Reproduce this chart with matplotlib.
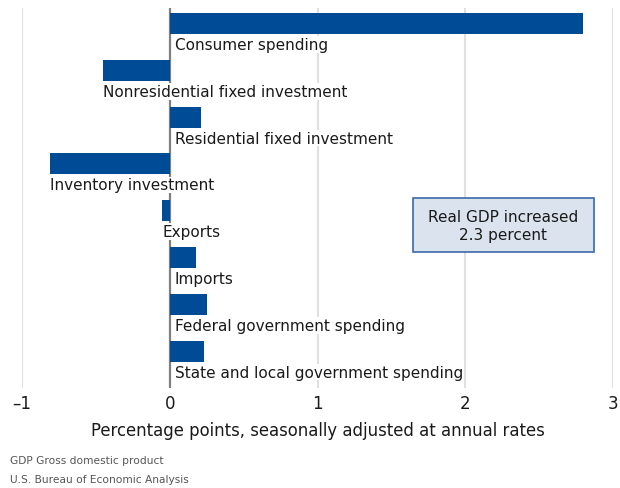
import numpy as np
import matplotlib.pyplot as plt
from matplotlib.patches import Rectangle

plt.rcParams['font.family'] = ['DejaVu Sans']

# contributions to percent change in real GDP, percentage points
categories = ['Consumer spending', 'Nonresidential fixed investment',
              'Residential fixed investment', 'Inventory investment',
              'Exports', 'Imports', 'Federal government spending',
              'State and local government spending']
values = [2.80, -0.45, 0.21, -0.81, -0.05, 0.18, 0.25, 0.23]
xticks = [-1, 0, 1, 2, 3]
gdp_change = 2.3

bar_color = '#004b96'
y = np.arange(len(categories))

fig = plt.figure(figsize=(6.2, 4.89), dpi=100)
ax = fig.add_axes([22/620, 1-389/489, (613-22)/620, 380/489])

for xv in xticks:
    if xv == 0:
        continue
    ax.axvline(xv, color='#e0e0e0', lw=1.5, zorder=0)
ax.axvline(0, color='#808080', lw=1.6, zorder=1)

ax.barh(y, values, height=0.45, color=bar_color, zorder=3)

for yi, name, v in zip(y, categories, values):
    off = 3.5 if v >= 0 else 0
    ax.annotate(name, xy=(min(v, 0), yi + 0.45), xytext=(off, 0),
                textcoords='offset points', ha='left', va='center',
                fontsize=11, color='#1a1a1a', zorder=4,
                bbox=dict(boxstyle='square,pad=0.05', fc='white', ec='none'))

# summary box
ax.add_patch(Rectangle((1.645, 3.737), 1.225, 1.155, fc='#dbe4ee',
                       ec='#3a6aa8', lw=1.2, zorder=5))
ax.text(2.258, 4.31, f'Real GDP increased\n{gdp_change} percent', ha='center', va='center',
        fontsize=11, color='#1a1a1a', linespacing=1.25, zorder=6)

ax.set_xlim(-1, 3)
ax.set_ylim(7.79, -0.33)
ax.set_xticks(xticks)
ax.set_xticklabels(['\u20131', '0', '1', '2', '3'])
ax.tick_params(axis='x', length=0, labelsize=12, pad=4, colors='#1a1a1a')
ax.set_yticks([])
for s in ax.spines.values():
    s.set_visible(False)

ax.set_xlabel('Percentage points, seasonally adjusted at annual rates',
              fontsize=11.9, color='#1a1a1a', labelpad=7)

fig.text(10/620, 1-461/489, 'GDP Gross domestic product', fontsize=7.7,
         color='#555555', va='center')
fig.text(10/620, 1-480/489, 'U.S. Bureau of Economic Analysis', fontsize=7.7,
         color='#555555', va='center')

fig.savefig('out.png', dpi=100)
